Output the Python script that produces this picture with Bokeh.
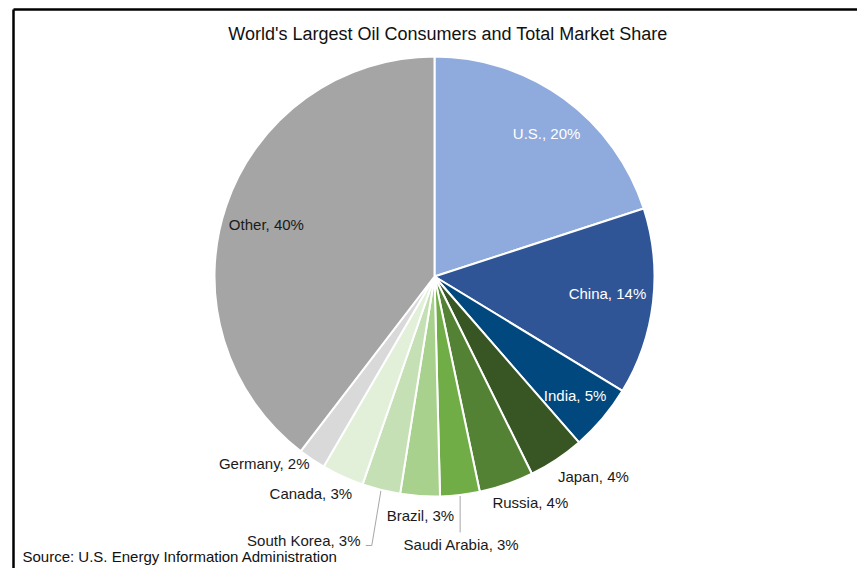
import numpy as np
from bokeh.plotting import figure
from bokeh.models import Range1d
from bokeh.core.properties import value
from bokeh.embed import file_html
from bokeh.resources import INLINE

# ---- data ----
countries = ["U.S.", "China", "India", "Japan", "Russia", "Saudi Arabia",
             "Brazil", "South Korea", "Canada", "Germany", "Other"]
shares = [20.0, 13.7, 4.9, 4.1, 4.0, 2.9, 2.9, 2.8, 3.1, 2.0, 39.6]
share_labels = ["20%", "14%", "5%", "4%", "4%", "3%", "3%", "3%", "3%", "2%", "40%"]

title_text = "World's Largest Oil Consumers and Total Market Share"
source_text = "Source: U.S. Energy Information Administration"

# ---- style / layout ----
colors = ["#8FAADC", "#2F5597", "#00487D", "#375623", "#548235", "#70AD47",
          "#A9D18E", "#C5E0B4", "#E2F0D9", "#D9D9D9", "#A5A5A5"]
text_colors = ["white", "white", "white", "#1a1a1a", "#1a1a1a", "#1a1a1a",
               "#1a1a1a", "#1a1a1a", "#1a1a1a", "#1a1a1a", "#1a1a1a"]
# label placement: radius factor and angle tweak (deg) relative to the wedge mid-angle
label_rf = [0.826, 0.79, 0.836, 1.161, 1.116, 1.224, 1.088, 1.339, 1.136, 1.149, 0.80]
label_da = [-2.1, 1.0, 0.0, 4.8, 3.9, -0.9, 0.4, -12.3, -5.0, -8.5, 1.5]

FONT = "'Liberation Sans', Arial, sans-serif"
W, H = 857, 568
cx, cy, R = 434, 300, 220

p = figure(width=W, height=H, output_backend="svg", toolbar_location=None,
           x_range=Range1d(0, W), y_range=Range1d(576 - H, 576),
           min_border=0, background_fill_color="white", border_fill_color="white")
p.axis.visible = False
p.grid.visible = False
p.outline_line_color = None

vals = np.array(shares, dtype=float)
frac = vals / vals.sum()
cum = np.concatenate([[0], np.cumsum(frac)])
start_deg = 90 - cum[:-1] * 360
end_deg = 90 - cum[1:] * 360
mid_deg = (start_deg + end_deg) / 2

p.wedge(x=cx, y=cy, radius=R,
        start_angle=np.radians(start_deg), end_angle=np.radians(end_deg),
        direction="clock", fill_color=colors, line_color="white", line_width=2)

ang = np.radians(mid_deg + np.array(label_da))
rf = np.array(label_rf)
lx = cx + rf * R * np.cos(ang)
ly = cy + rf * R * np.sin(ang)
texts = [f"{c}, {s}" for c, s in zip(countries, share_labels)]

p.text(x=lx, y=ly, text=texts, text_color=text_colors,
       text_font=value(FONT), text_font_size="15px",
       text_align="center", text_baseline="middle")

# leader lines (Saudi Arabia, South Korea)
def rim(i):
    a = np.radians(mid_deg[i])
    return cx + (R + 1) * np.cos(a), cy + (R + 1) * np.sin(a)

i_sa = countries.index("Saudi Arabia")
x0, y0 = rim(i_sa)
p.line(x=[x0, x0], y=[y0, ly[i_sa] + 12], line_color="#A6A6A6", line_width=1)

i_sk = countries.index("South Korea")
x0, y0 = rim(i_sk)
p.line(x=[x0, lx[i_sk] + 68, lx[i_sk] + 62], y=[y0, ly[i_sk] - 5, ly[i_sk] - 5],
       line_color="#A6A6A6", line_width=1)

# title and source
p.text(x=[447.5], y=[576 - 33], text=[title_text], text_color="#111111",
       text_font=value(FONT), text_font_size="18px",
       text_align="center", text_baseline="middle")
p.text(x=[22], y=[576 - 564], text=[source_text], text_color="#111111",
       text_font=value(FONT), text_font_size="15px",
       text_align="left", text_baseline="bottom")

# frame lines (top and left)
p.line(x=[13, W], y=[567, 567], line_color="black", line_width=2.5)
p.line(x=[13, 13], y=[576 - H, 567], line_color="black", line_width=2.5)

open("out.html", "w").write(file_html(p, INLINE))
